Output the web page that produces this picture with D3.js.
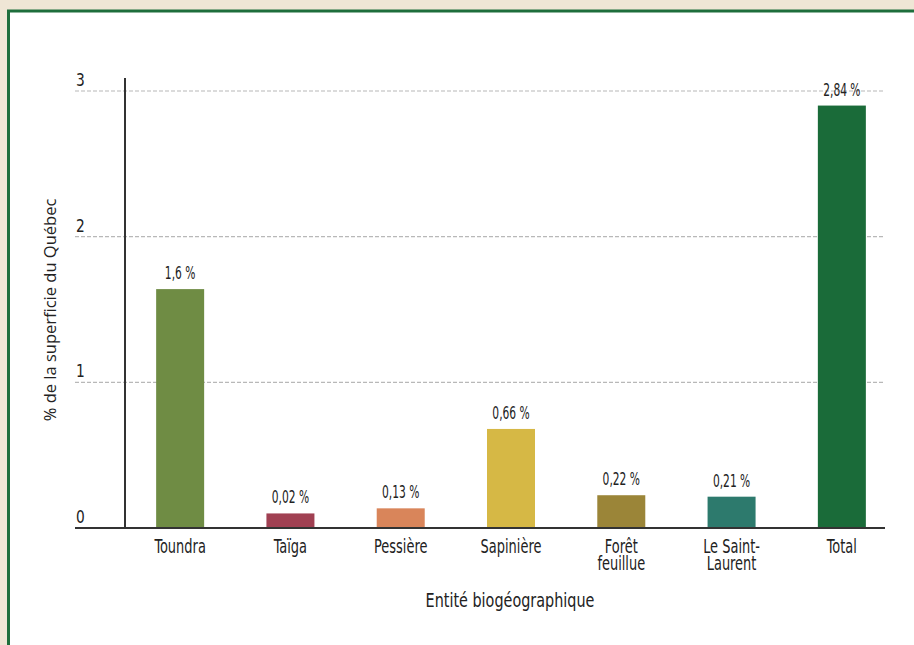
<!DOCTYPE html>
<html>
<head>
<meta charset="utf-8">
<script src="https://cdn.jsdelivr.net/npm/d3@7"></script>
<style>
  html, body { margin: 0; padding: 0; background: #efe6d5; }
  svg { display: block; }
</style>
</head>
<body>
<svg id="chart" width="914" height="645"></svg>
<script>
"use strict";

// chart data
const categories = ["Toundra", "Taïga", "Pessière", "Sapinière", "Forêt\nfeuillue", "Le Saint-\nLaurent", "Total"];
const barValues  = [1.64, 0.10, 0.135, 0.68, 0.225, 0.215, 2.90];
const valueLabels = ["1,6 %", "0,02 %", "0,13 %", "0,66 %", "0,22 %", "0,21 %", "2,84 %"];
const barColors  = ["#6f8c44", "#a04052", "#d9855a", "#d6b845", "#9b8538", "#2d7a6d", "#1a6b39"];
const yTicks     = [0, 1, 2, 3];

const condensed = "'Liberation Sans Narrow', 'DejaVu Sans Condensed', 'Roboto Condensed', sans-serif";

let svg = d3.select("#chart");

// parchment backdrop and white panel with a green frame
svg.append("rect").attr("width", 914).attr("height", 645).attr("fill", "#efe6d5");
svg.append("rect")
   .attr("x", 8.5).attr("y", 11)
   .attr("width", 940).attr("height", 660)
   .attr("fill", "#ffffff")
   .attr("stroke", "#1e6e3c")
   .attr("stroke-width", 3);

let x = d3.scalePoint().domain(categories).range([125, 897]).padding(0.5),
    y = d3.scaleLinear().domain([0, 3]).range([528, 91]);
let barWidth = 48;

// dashed gridlines with labels sitting above their left end
let grid = svg.append("g").attr("class", "grid");
grid.selectAll("line")
    .data(yTicks.filter(d => d > 0))
    .enter().append("line")
      .attr("x1", 75).attr("x2", 885)
      .attr("y1", d => y(d)).attr("y2", d => y(d))
      .attr("stroke", "#b8b8b8")
      .attr("stroke-width", 1.2)
      .attr("stroke-dasharray", "4,2");

grid.selectAll("text")
    .data(yTicks)
    .enter().append("text")
      .attr("transform", d => `translate(76,${y(d) - 5}) scale(0.9,1)`)
      .style("font-family", condensed)
      .style("font-size", "17px")
      .attr("fill", "#222")
      .text(d => d);

// bars
svg.selectAll(".bar")
   .data(barValues)
   .enter().append("rect")
     .attr("class", "bar")
     .attr("x", (d, i) => x(categories[i]) - barWidth / 2)
     .attr("y", d => y(d))
     .attr("width", barWidth)
     .attr("height", d => y(0) - y(d))
     .attr("fill", (d, i) => barColors[i]);

// value labels above bars
svg.selectAll(".val")
   .data(barValues)
   .enter().append("text")
     .attr("class", "val")
     .attr("transform", (d, i) => `translate(${x(categories[i])},${y(d) - 10}) scale(0.66,1)`)
     .attr("text-anchor", "middle")
     .style("font-family", condensed)
     .style("font-size", "18px")
     .attr("fill", "#222")
     .text((d, i) => valueLabels[i]);

// axes lines
svg.append("line")
   .attr("x1", 125).attr("x2", 125)
   .attr("y1", 78).attr("y2", y(0))
   .attr("stroke", "#333").attr("stroke-width", 2);
svg.append("line")
   .attr("x1", 75).attr("x2", 885)
   .attr("y1", y(0)).attr("y2", y(0))
   .attr("stroke", "#333").attr("stroke-width", 2);

// category labels, may wrap on two lines
let cat = svg.selectAll(".cat")
   .data(categories)
   .enter().append("text")
     .attr("class", "cat")
     .attr("transform", d => `translate(${x(d)},553) scale(0.74,1)`)
     .attr("text-anchor", "middle")
     .style("font-family", condensed)
     .style("font-size", "19.5px")
     .attr("fill", "#222");
cat.each(function(d) {
  let t = d3.select(this);
  d.split("\n").forEach((line, k) => {
    t.append("tspan").attr("x", 0).attr("y", k * 17).text(line);
  });
});

// axis titles
svg.append("text")
   .attr("transform", "translate(510,607) scale(0.82,1)")
   .attr("text-anchor", "middle")
   .style("font-family", condensed)
   .style("font-size", "19.5px")
   .attr("fill", "#222")
   .text("Entité biogéographique");

svg.append("text")
   .attr("transform", "translate(56,310) rotate(-90)")
   .attr("text-anchor", "middle")
   .style("font-family", "'Open Sans', 'Noto Sans', sans-serif")
   .style("font-size", "16.5px")
   .attr("fill", "#222")
   .text("% de la superficie du Québec");
</script>
</body>
</html>
